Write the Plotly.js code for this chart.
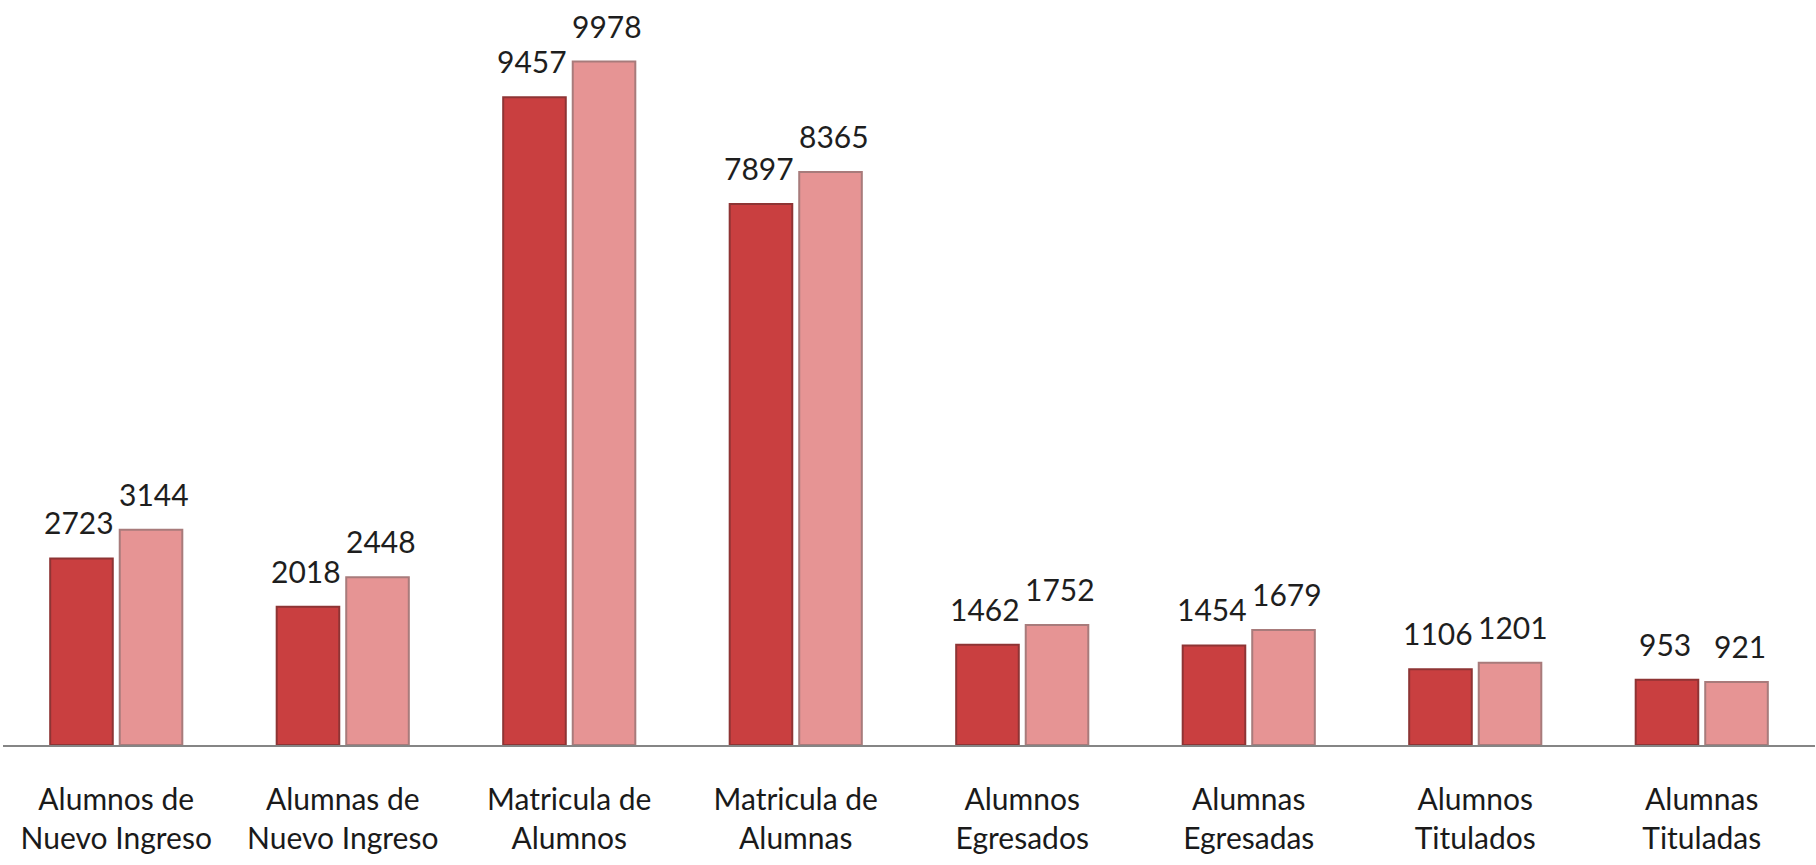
<!DOCTYPE html>
<html><head><meta charset="utf-8">
<script src="https://cdn.plot.ly/plotly-3.0.1.min.js"></script>
<style>html,body{margin:0;padding:0;background:#fff;}#chart{width:1816px;height:865px;}</style>
</head><body><div id="chart"></div>
<script>
const categories = [
  "Alumnos de<br>Nuevo Ingreso",
  "Alumnas de<br>Nuevo Ingreso",
  "Matricula de<br>Alumnos",
  "Matricula de<br>Alumnas",
  "Alumnos<br>Egresados",
  "Alumnas<br>Egresadas",
  "Alumnos<br>Titulados",
  "Alumnas<br>Tituladas"
];
const serieA = [2723, 2018, 9457, 7897, 1462, 1454, 1106, 953];
const serieB = [3144, 2448, 9978, 8365, 1752, 1679, 1201, 921];

const FONT = "Lato, 'Liberation Sans', sans-serif";

const traces = [
  {type:'bar', x:categories, y:serieA, name:'A',
   marker:{color:'#c93f40', line:{color:'#8e3434', width:2}}, hoverinfo:'y'},
  {type:'bar', x:categories, y:serieB, name:'B',
   marker:{color:'#e69494', line:{color:'#a87b7b', width:2}}, hoverinfo:'y'}
];

const annotations = [];
categories.forEach((c,i)=>{
  annotations.push({x:c, y:serieA[i], text:String(serieA[i]), showarrow:false,
    xanchor:'center', yanchor:'bottom', xshift:-37, yshift:16,
    font:{family:FONT, size:30, color:'#1e1e1e'}});
  annotations.push({x:c, y:serieB[i], text:String(serieB[i]), showarrow:false,
    xanchor:'center', yanchor:'bottom', xshift:38, yshift:16,
    font:{family:FONT, size:30, color:'#1e1e1e'}});
});

const layout = {
  width:1816, height:865,
  margin:{l:3, r:1, t:0, b:120},
  paper_bgcolor:'#ffffff', plot_bgcolor:'#ffffff',
  showlegend:false,
  barmode:'group', bargap:0.386, bargroupgap:0.1,
  xaxis:{type:'category', showline:true, linecolor:'#858585', linewidth:2,
    ticks:'', showgrid:false, zeroline:false,
    tickfont:{family:FONT, size:30, color:'#1a1a1a'}, ticklabelstandoff:27},
  yaxis:{range:[0,10876], visible:false, showgrid:false, zeroline:false},
  annotations:annotations,
  font:{family:FONT}
};

Plotly.newPlot('chart', traces, layout, {displayModeBar:false, staticPlot:true});
</script></body></html>
